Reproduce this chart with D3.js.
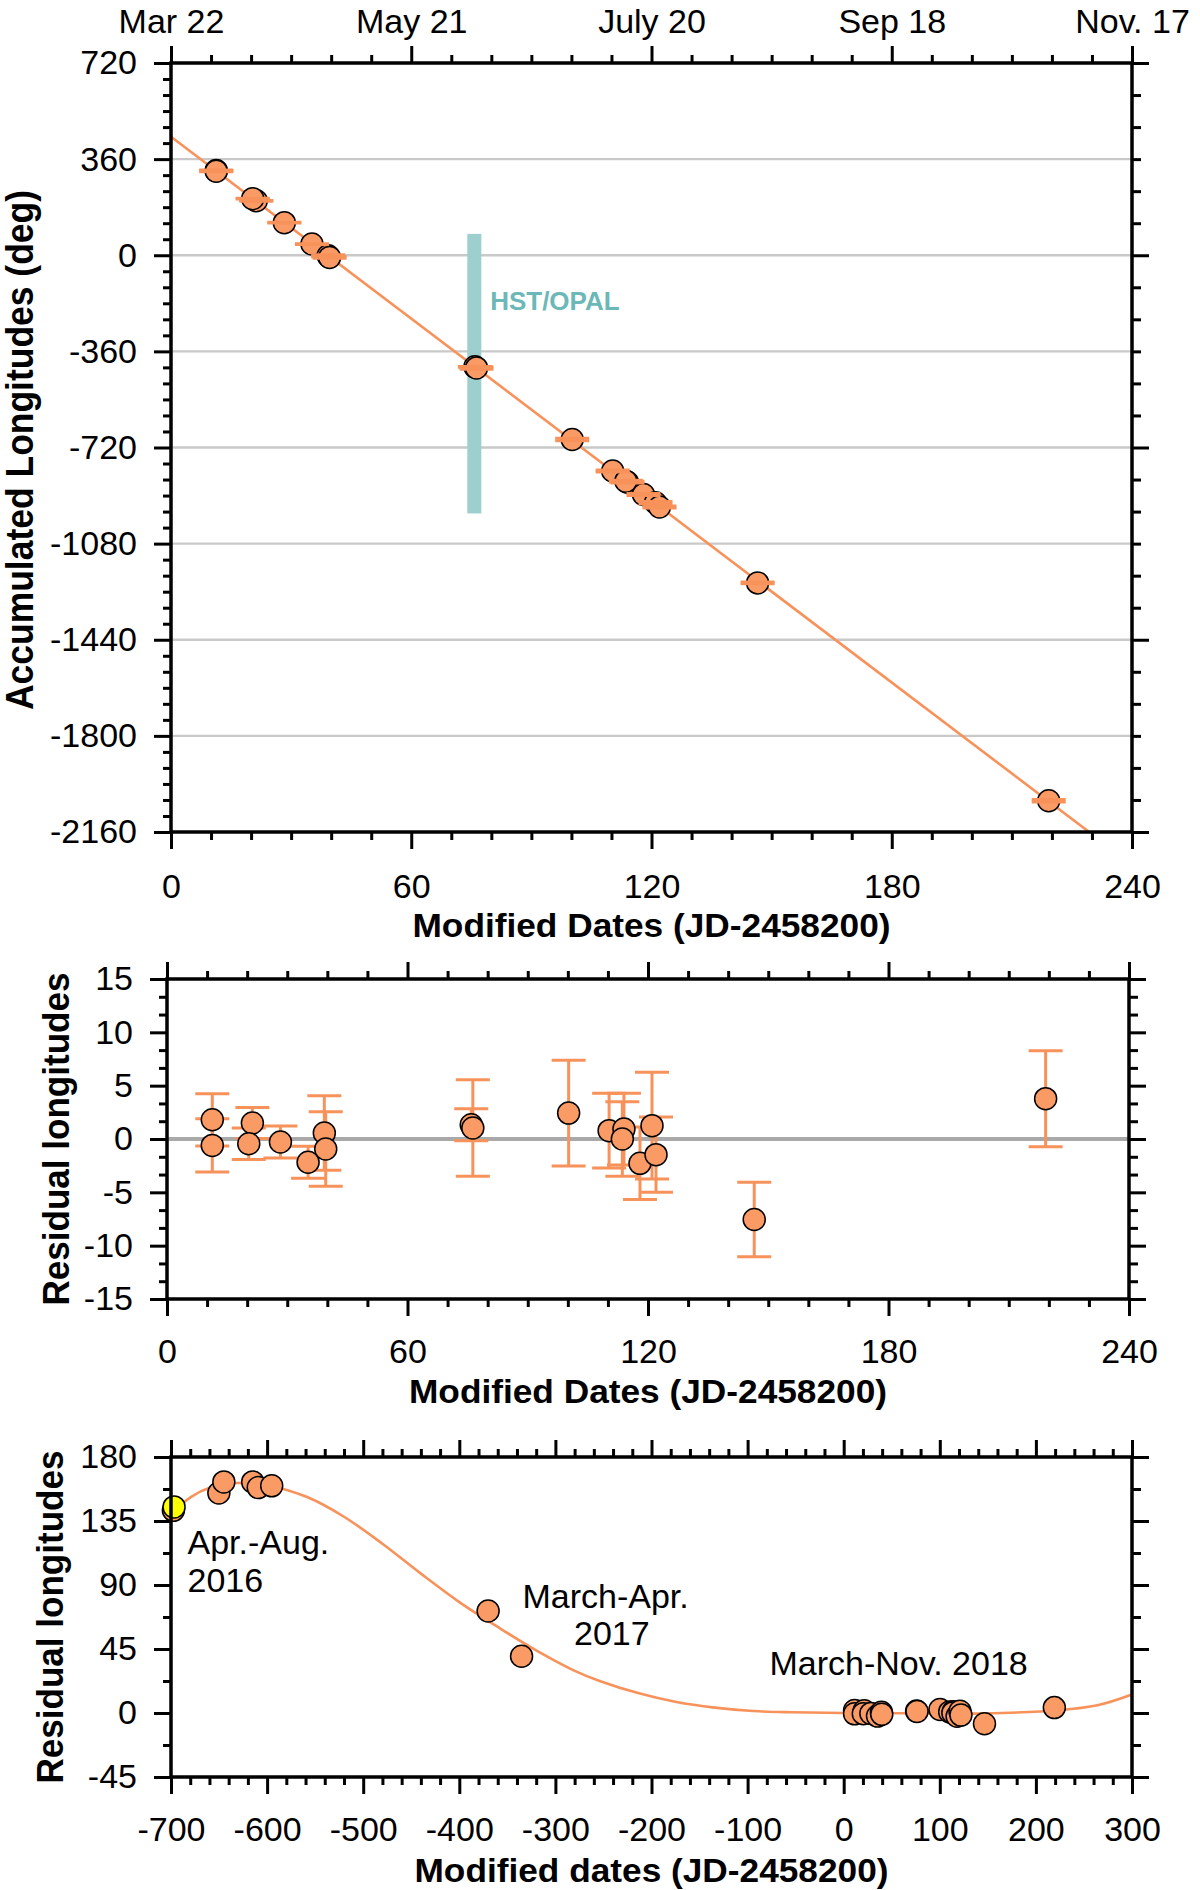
<!DOCTYPE html>
<html>
<head>
<meta charset="utf-8">
<script src="https://cdn.jsdelivr.net/npm/d3@7"></script>
<style>
body { margin: 0; background: #fff; }
svg { display: block; font-family: "Liberation Sans", Arial, sans-serif; }
.tick text { font-size: 34px; fill: #000; }
.tick line { stroke: #000; stroke-width: 3; }
</style>
</head>
<body>
<div id="chart"></div>
<script>
/* Data */
// 2018 observations (days = JD-2458200)
var days2018 = [11.3, 11.3, 21.3, 20.4, 28.3, 35.2, 39.25, 39.6, 75.9, 76.3, 100.2, 110.3, 114.0, 113.6, 118.0, 121.0, 122.0, 146.5, 219.2];
var accumLon = [317, 315, 204, 212, 122, 42, -2, -8, -418, -422, -690, -808, -850, -846, -896, -927, -943, -1227, -2043];
var residuals = [1.8, -0.6, 1.5, -0.44, -0.28, -2.18, 0.56, -0.94, 1.34, 1.03, 2.43, 0.78, 0.93, 0.0, -2.28, 1.25, -1.47, -7.55, 3.78];
var residErr = [2.45, 2.5, 1.46, 1.48, 1.5, 1.5, 3.5, 3.5, 1.5, 4.53, 4.95, 3.5, 3.37, 3.5, 3.4, 5.0, 3.53, 3.5, 4.5];

// linear drift fit (end points of the drawn line)
var fitDays = [0, 229.3];
var fitLon = [444, -2160];

// HST/OPAL window
var hstDays = [74.0, 77.5];
var hstLon = [80, -967];

// earlier seasons
var days2016 = [-697.5, -650.2, -645, -615, -609.2, -595.2];
var resid2016 = [142.5, 154.7, 162.5, 162.5, 158.5, 159.7];
var days2017 = [-370, -335.2];
var resid2017 = [71.7, 39.9];
var yellowDays = [-696.8];
var yellowResid = [144.9];

// fitted curve through all seasons
var curveDays = [-700, -679, -659, -631, -599, -559, -520, -480, -440, -400, -360, -320, -281, -254, -214, -174, -134, -94, -54, 0, 65, 145, 224, 264, 300];
var curveResid = [140, 152, 158.5, 161.7, 160, 152, 138, 119, 98, 78, 60.5, 44, 30, 22.5, 14, 7.7, 3.8, 1.4, 0.5, 0, -0.2, -0.3, 1.9, 5.4, 13];

// annotations
var noteText = ["Apr.-Aug.", "2016", "March-Apr.", "2017", "March-Nov. 2018"];
var noteDay = [-682.8, -682.8, -334.3, -280.6, -77.2];
var noteVal = [111.6, 85.1, 74.1, 47.6, 26.5];

// tick labels
var dayTicks = [0, 60, 120, 180, 240];
var dateLabels = ["Mar 22", "May 21", "July 20", "Sep 18", "Nov. 17"];
var lonTicks = [720, 360, 0, -360, -720, -1080, -1440, -1800, -2160];
var resTicks = [15, 10, 5, 0, -5, -10, -15];
var longDayTicks = [-700, -600, -500, -400, -300, -200, -100, 0, 100, 200, 300];
var longResTicks = [180, 135, 90, 45, 0, -45];

var orange = "#f8925b";
var dotFill = "#fa9b66";

// 1. Canvas
var svg = d3.select("#chart").append("svg")
  .attr("width", 1200)
  .attr("height", 1890);

// 2. Scales
var x1 = d3.scaleLinear().domain([0, 240]).range([171, 1132]);
var y1 = d3.scaleLinear().domain([-2160, 720]).range([832, 63]);
var x2 = d3.scaleLinear().domain([0, 240]).range([167, 1129]);
var y2 = d3.scaleLinear().domain([-15, 15]).range([1299, 979]);
var x3 = d3.scaleLinear().domain([-700, 300]).range([171, 1132]);
var y3 = d3.scaleLinear().domain([-45, 180]).range([1777, 1457]);

var blank = function () { return ""; };
var plain = function (d) { return d; };

function addAxis(gen, scale, values, size, pad, fmt, tx, ty) {
  var g = svg.append("g")
    .attr("transform", "translate(" + tx + "," + ty + ")")
    .call(gen(scale).tickValues(values).tickSize(size).tickSizeOuter(0)
      .tickPadding(pad).tickFormat(fmt));
  g.select(".domain").remove();
  return g;
}

function minors(lo, hi, step, majorStep) {
  var out = [];
  var n = Math.round((hi - lo) / step);
  for (var i = 0; i <= n; i++) {
    var v = lo + i * step;
    var r = (v - lo) / majorStep;
    if (Math.abs(r - Math.round(r)) > 1e-6) out.push(v);
  }
  return out;
}

function frame(x, y, o) {
  var r = x.range(), d = y.range();
  var left = r[0], right = r[1], top = d[1], bottom = d[0];
  // bottom
  addAxis(d3.axisBottom, x, o.xMajor, 17, o.xPad, plain, 0, bottom);
  addAxis(d3.axisBottom, x, o.xMinor, 8, 0, blank, 0, bottom);
  // top
  addAxis(d3.axisTop, x, o.xMajor, 17, 13, o.topFmt || blank, 0, top);
  addAxis(d3.axisTop, x, o.xMinor, 8, 0, blank, 0, top);
  // left
  addAxis(d3.axisLeft, y, o.yMajor, 17, 17, plain, left, 0);
  addAxis(d3.axisLeft, y, o.yMinor, 8, 0, blank, left, 0);
  // right
  addAxis(d3.axisRight, y, o.rMajor || o.yMajor, 17, 0, blank, right, 0);
  addAxis(d3.axisRight, y, o.rMinor || o.yMinor, 9, 0, blank, right, 0);
  svg.append("rect")
    .attr("x", left).attr("y", top)
    .attr("width", right - left).attr("height", bottom - top)
    .attr("fill", "none").attr("stroke", "#000").attr("stroke-width", 3.5);
}

function title(text, tx, ty, size, len, rotate) {
  svg.append("text")
    .attr("transform", "translate(" + tx + "," + ty + ")" + (rotate ? " rotate(-90)" : ""))
    .attr("text-anchor", "middle")
    .attr("font-size", size)
    .attr("font-weight", "bold")
    .attr("textLength", len)
    .attr("lengthAdjust", "spacingAndGlyphs")
    .text(text);
}

var idx = d3.range(days2018.length);

/* ---------- Panel 1: accumulated longitudes ---------- */
// grid
svg.append("g").selectAll("line")
  .data(lonTicks.slice(1, -1))
  .join("line")
  .attr("x1", x1(0)).attr("x2", x1(240))
  .attr("y1", function (d) { return y1(d); })
  .attr("y2", function (d) { return y1(d); })
  .attr("stroke", "#c9c9c9").attr("stroke-width", 2.3);

// HST/OPAL band
svg.append("rect")
  .attr("x", x1(hstDays[0])).attr("width", x1(hstDays[1]) - x1(hstDays[0]))
  .attr("y", y1(hstLon[0])).attr("height", y1(hstLon[1]) - y1(hstLon[0]))
  .attr("fill", "#9dcfcf");
svg.append("text")
  .attr("x", x1(79.7)).attr("y", y1(-205))
  .attr("font-size", 26).attr("font-weight", "bold").attr("fill", "#6cb8b8")
  .text("HST/OPAL");

// fit line
var line1 = d3.line()
  .x(function (i) { return x1(fitDays[i]); })
  .y(function (i) { return y1(fitLon[i]); });
svg.append("path")
  .attr("d", line1([0, 1]))
  .attr("fill", "none").attr("stroke", orange).attr("stroke-width", 2.6);

// points
svg.append("g").selectAll("circle")
  .data(idx).join("circle")
  .attr("cx", function (i) { return x1(days2018[i]); })
  .attr("cy", function (i) { return y1(accumLon[i]); })
  .attr("r", 11)
  .attr("fill", dotFill).attr("stroke", "#000").attr("stroke-width", 1.5);

// error caps (tiny on this scale)
var caps1 = svg.append("g").attr("stroke", orange).attr("stroke-width", 3);
idx.forEach(function (i) {
  var cx = x1(days2018[i]);
  [accumLon[i] + residErr[i], accumLon[i] - residErr[i]].forEach(function (v) {
    caps1.append("line")
      .attr("x1", cx - 17).attr("x2", cx + 17)
      .attr("y1", y1(v)).attr("y2", y1(v));
  });
});

frame(x1, y1, {
  xMajor: dayTicks, xMinor: minors(0, 240, 10, 60), xPad: 25,
  topFmt: function (d, i) { return dateLabels[i]; },
  yMajor: lonTicks, yMinor: minors(-2160, 720, 60, 360),
  rMajor: [720, 0, -720, -1440, -2160], rMinor: minors(-2160, 720, 120, 720)
});
title("Accumulated Longitudes (deg)", 33, 450, 38, 520, true);
title("Modified Dates (JD-2458200)", 651.5, 937, 34, 478, false);

/* ---------- Panel 2: residuals 2018 ---------- */
svg.append("line")
  .attr("x1", x2(0)).attr("x2", x2(240))
  .attr("y1", y2(0)).attr("y2", y2(0))
  .attr("stroke", "#a9a9a9").attr("stroke-width", 4);

var bars2 = svg.append("g").attr("stroke", orange).attr("stroke-width", 3);
idx.forEach(function (i) {
  var cx = x2(days2018[i]);
  var hi = residuals[i] + residErr[i], lo = residuals[i] - residErr[i];
  bars2.append("line").attr("x1", cx).attr("x2", cx).attr("y1", y2(hi)).attr("y2", y2(lo));
  [hi, lo].forEach(function (v) {
    bars2.append("line").attr("x1", cx - 17).attr("x2", cx + 17).attr("y1", y2(v)).attr("y2", y2(v));
  });
});
svg.append("g").selectAll("circle")
  .data(idx).join("circle")
  .attr("cx", function (i) { return x2(days2018[i]); })
  .attr("cy", function (i) { return y2(residuals[i]); })
  .attr("r", 11)
  .attr("fill", dotFill).attr("stroke", "#000").attr("stroke-width", 1.5);

frame(x2, y2, {
  xMajor: dayTicks, xMinor: minors(0, 240, 10, 60), xPad: 23,
  yMajor: resTicks, yMinor: minors(-15, 15, 5 / 3, 5)
});
title("Residual longitudes", 68.5, 1139, 37, 333, true);
title("Modified Dates (JD-2458200)", 648, 1402.5, 34, 478, false);

/* ---------- Panel 3: residuals 2016-2018 ---------- */
var line3 = d3.line()
  .x(function (i) { return x3(curveDays[i]); })
  .y(function (i) { return y3(curveResid[i]); })
  .curve(d3.curveCatmullRom.alpha(0.5));
svg.append("path")
  .attr("d", line3(d3.range(curveDays.length)))
  .attr("fill", "none").attr("stroke", orange).attr("stroke-width", 2.6);

function dots3(days, vals, fill) {
  svg.append("g").selectAll("circle")
    .data(d3.range(days.length)).join("circle")
    .attr("cx", function (i) { return x3(days[i]); })
    .attr("cy", function (i) { return y3(vals[i]); })
    .attr("r", 11)
    .attr("fill", fill).attr("stroke", "#000").attr("stroke-width", 1.5);
}
dots3(days2016, resid2016, dotFill);
dots3(days2017, resid2017, dotFill);
dots3(days2018, residuals, dotFill);
dots3(yellowDays, yellowResid, "#ffff00");

svg.append("g").selectAll("text")
  .data(d3.range(noteText.length)).join("text")
  .attr("x", function (i) { return x3(noteDay[i]); })
  .attr("y", function (i) { return y3(noteVal[i]); })
  .attr("font-size", 34)
  .text(function (i) { return noteText[i]; });

frame(x3, y3, {
  xMajor: longDayTicks, xMinor: minors(-700, 300, 20, 100), xPad: 23,
  yMajor: longResTicks, yMinor: minors(-45, 180, 22.5, 45)
});
title("Residual longitudes", 63, 1617, 37, 333, true);
title("Modified dates (JD-2458200)", 651.5, 1881.5, 34, 474, false);
</script>
</body>
</html>
